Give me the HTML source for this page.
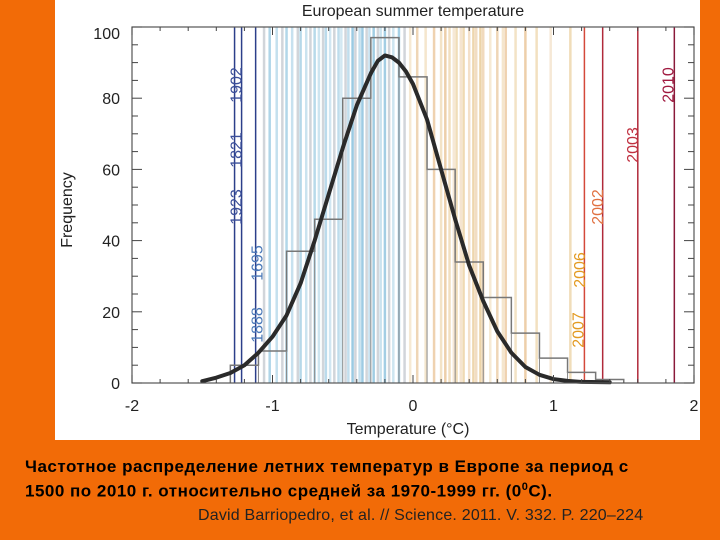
<!DOCTYPE html>
<html><head><meta charset="utf-8"><style>
body{margin:0;width:720px;height:540px;background:#f26b07;overflow:hidden;position:relative;font-family:"Liberation Sans","Noto Sans CJK SC",sans-serif}
#panel{position:absolute;left:55px;top:0;width:645px;height:440px;background:#fff}
.cap{position:absolute;left:25px;top:456px;font-weight:bold;font-size:17px;letter-spacing:0.5px;line-height:21px;color:#000}
.cite{position:absolute;left:198px;top:507px;font-size:16px;letter-spacing:0.2px;color:#222}
</style></head><body>
<div id="panel"></div>
<svg id="chart" width="720" height="540" style="position:absolute;left:0;top:0" font-family="Liberation Sans, sans-serif"></svg>
<div class="cap">Частотное распределение летних температур в Европе за период с<br>1500 по 2010 г. относительно средней за 1970-1999 гг. (0<sup style="font-size:11px">0</sup>С).</div>
<div class="cite">David Barriopedro, et al. // Science. 2011. V. 332. P. 220–224</div>
<script>
const binEdges=[-1.3,-1.1,-0.9,-0.7,-0.5,-0.3,-0.1,0.1,0.3,0.5,0.7,0.9,1.1,1.3,1.5];
const binCounts=[5,9,37,46,80,97,86,60,34,24,14,7,3,1];
const curveX=[-1.5,-1.4,-1.3,-1.2,-1.1,-1.0,-0.9,-0.8,-0.7,-0.6,-0.5,-0.4,-0.3,-0.25,-0.2,-0.15,-0.1,-0.05,0,0.1,0.2,0.3,0.4,0.5,0.6,0.7,0.8,0.9,1.0,1.1,1.2,1.4];
const curveY=[0.5,1.5,2.8,5,8.5,13,19,28,40,53,66,78,87,90.5,92,91.5,90,87.5,84,74,60,46,33,23,14.5,8.5,4.5,2.3,1.1,0.6,0.3,0.2];
const bgTemps=[-1.06,-1.02,-0.97,-0.93,-0.9,-0.86,-0.82,-0.8,-0.76,-0.73,-0.7,-0.67,-0.64,-0.62,-0.59,-0.56,-0.53,-0.51,-0.48,-0.46,-0.43,-0.41,-0.38,-0.36,-0.33,-0.31,-0.28,-0.25,-0.23,-0.2,-0.17,-0.14,-0.1,-0.06,-0.02,0.03,0.09,0.15,0.2,0.23,0.26,0.29,0.31,0.34,0.36,0.4,0.43,0.45,0.48,0.5,0.55,0.6,0.64,0.66,0.73,0.8,0.88,0.98,1.12];
const yearLabels=['1902','1821','1923','1695','1888','2007','2006','2002','2003','2010'];
const yearTemps=[-1.27,-1.27,-1.27,-1.12,-1.12,1.17,1.18,1.31,1.56,1.81];
const yearLines=[-1.27,-1.22,-1.12,1.22,1.35,1.6,1.86];
const xTicks=[-2,-1,0,1,2];
const yTicks=[0,20,40,60,80,100];
const NS='http://www.w3.org/2000/svg';
const svg=document.getElementById('chart');
const L=132,R=694,T=27,B=383;
const xs=v=>L+(v+2)/4*(R-L);
const ys=v=>B-v/100*(B-T);
function mk(t,a,p){const e=document.createElementNS(NS,t);for(const k in a)e.setAttribute(k,a[k]);(p||svg).appendChild(e);return e;}
const clip=mk('clipPath',{id:'pc'});mk('rect',{x:L,y:T,width:R-L,height:B-T},clip);
const g=mk('g',{'clip-path':'url(#pc)'});
bgTemps.forEach((t,i)=>{
  let c; if(t<-0.05){c=(i%3==0)?'hsl(210,10%,78%)':'hsl(200,55%,'+(66+((i*7)%20))+'%)';}else{c='hsl('+(38-((i*5)%10))+',65%,'+(72+((i*7)%16))+'%)';}
  const l=mk('line',{x1:xs(t),x2:xs(t),y1:T,y2:B,stroke:c,'stroke-width':2.5,'stroke-opacity':0.75},g);
  
  
});
yearLines.forEach(t=>{
  const c=t<0?'#2c3f8a':(t<1.3?'#d4493a':(t<1.7?'#b02a3a':'#8a1a3a'));
  const l=mk('line',{x1:xs(t),x2:xs(t),y1:T,y2:B,stroke:c,'stroke-width':1.5},g);
  
  
});
const ly=[85,150,207,263,325,330,270,207,145,85];
yearLabels.forEach((s,i)=>{
  const t=yearTemps[i];
  const c=t<-1.2?'#3b4f9a':(t<0?'#4a78b8':(t<1.25?'#e39a20':(t<1.4?'#e07040':(t<1.7?'#c03040':'#a01a40'))));
  const x=xs(t)-(t<0?-7:-6);
  const e=mk('text',{x:0,y:0,transform:'translate('+x+','+ly[i]+') rotate(-90)','text-anchor':'middle','font-size':16,fill:c});
  e.textContent=s;
  
  
});
let d='M'+xs(binEdges[0])+','+ys(0);
binCounts.forEach((c,i)=>{d+=' L'+xs(binEdges[i])+','+ys(c)+' L'+xs(binEdges[i+1])+','+ys(c);});
d+=' L'+xs(binEdges[binEdges.length-1])+','+ys(0);
const h=mk('path',{d:d,fill:'none',stroke:'#777','stroke-width':1.5});


binCounts.forEach((c,i)=>{if(i>0){const v=mk('line',{x1:xs(binEdges[i]),x2:xs(binEdges[i]),y1:ys(0),y2:ys(Math.min(c,binCounts[i-1])),stroke:'#888','stroke-width':1});}});
const cp=mk('path',{d:curveX.map((x,i)=>(i?'L':'M')+xs(x)+','+ys(curveY[i])).join(' '),fill:'none',stroke:'#2a2a2a','stroke-width':4,'stroke-linejoin':'round','stroke-linecap':'round'});


const ax=mk('rect',{x:L,y:T,width:R-L,height:B-T,fill:'none',stroke:'#555','stroke-width':1.2});


for(let v=-2;v<=2.001;v+=0.2){const big=Math.abs(v-Math.round(v))<0.01;mk('line',{x1:xs(v),x2:xs(v),y1:B,y2:B-(big?8:4),stroke:'#444'});mk('line',{x1:xs(v),x2:xs(v),y1:T,y2:T+(big?8:4),stroke:'#444'});}
for(let v=0;v<=100;v+=5){const big=v%20==0;mk('line',{x1:L,x2:L+(big?10:6),y1:ys(v),y2:ys(v),stroke:'#444'});mk('line',{x1:R,x2:R-(big?10:6),y1:ys(v),y2:ys(v),stroke:'#444'});}
xTicks.forEach(v=>{const e=mk('text',{x:xs(v),y:411,'text-anchor':'middle','font-size':16,fill:'#222'});e.textContent=v;});
yTicks.forEach(v=>{const e=mk('text',{x:120,y:ys(v)+6+(v==100?6:0),'text-anchor':'end','font-size':16,fill:'#222'});e.textContent=v;});
const tt=mk('text',{x:413,y:16,'text-anchor':'middle','font-size':16,fill:'#222'});tt.textContent='European summer temperature';

const xt=mk('text',{x:408,y:434,'text-anchor':'middle','font-size':16,fill:'#222'});xt.textContent='Temperature (°C)';

const yt=mk('text',{x:0,y:0,transform:'translate(72,210) rotate(-90)','text-anchor':'middle','font-size':16,fill:'#222'});yt.textContent='Frequency';

</script>
</body></html>
